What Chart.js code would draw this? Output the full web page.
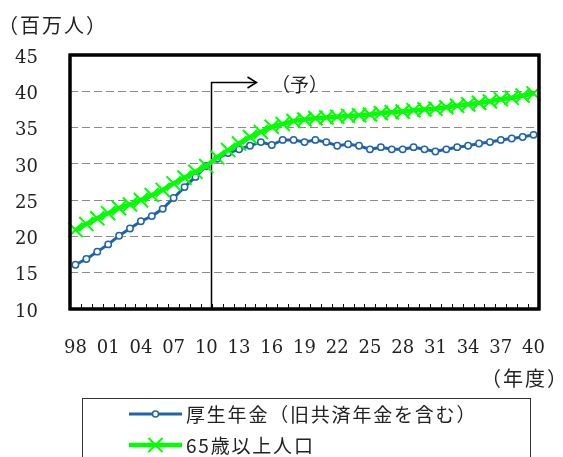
<!DOCTYPE html>
<html><head><meta charset="utf-8">
<script src="https://cdn.jsdelivr.net/npm/chart.js@4.4.1/dist/chart.umd.min.js"></script>
<style>html,body{margin:0;padding:0;background:#fff;}#wrap{width:563px;height:457px;position:relative;}</style>
</head><body><div id="wrap"><canvas id="c" width="563" height="457"></canvas></div>
<script>
// Fiscal years 1998..2040
const years = ["98","99","00","01","02","03","04","05","06","07","08","09","10","11","12","13","14","15","16","17","18","19","20","21","22","23","24","25","26","27","28","29","30","31","32","33","34","35","36","37","38","39","40"];
// 厚生年金（旧共済年金を含む） (million persons)
const pension = [16.1,16.9,17.9,18.9,20.1,21.1,22.1,22.8,23.8,25.3,
                 26.8,28.2,29.7,30.7,31.5,32.0,32.5,33.0,32.6,33.3,
                 33.3,33.0,33.3,33.0,32.5,32.7,32.5,32.0,32.3,32.0,
                 32.0,32.3,32.0,31.7,32.0,32.3,32.5,32.8,33.0,33.3,
                 33.5,33.7,34.0];
// 65歳以上人口 (million persons)
const elderly = [20.9,21.7,22.5,23.2,23.9,24.4,25.0,25.7,26.4,27.3,
                 28.1,28.9,29.7,30.9,31.9,32.8,33.7,34.4,35.1,35.5,
                 35.9,36.1,36.3,36.4,36.5,36.6,36.7,36.8,37.0,37.1,
                 37.2,37.4,37.5,37.6,37.8,38.0,38.2,38.4,38.6,38.9,
                 39.1,39.4,39.7];
const yMin = 10, yMax = 45, yStep = 5;
const tickEvery = 3;
const seriesNames = ["厚生年金（旧共済年金を含む）", "65歳以上人口"];
const yUnit = "（百万人）";
const xUnit = "（年度）";
const forecastLabel = "（予）";
const forecastStartIndex = 12; // 2010; forecast begins after it

const BLUE = "#1E64AA", GREEN = "#00FF00";
const JP = "'Noto Sans CJK JP', sans-serif";

function drawFrame(chart) {
  const ctx = chart.ctx, xs = chart.scales.x, ys = chart.scales.y;
  const L = xs.left, R = xs.right, T = ys.top, B = ys.bottom;
  ctx.save();
  ctx.setLineDash([]);
  ctx.globalAlpha = 1;
  ctx.strokeStyle = '#000';
  ctx.lineWidth = 1;
  const n = years.length;
  for (let i = 1; i < n; i++) {
    const px = Math.round((xs.getPixelForValue(i - 1) + xs.getPixelForValue(i)) / 2) + 0.5;
    ctx.beginPath(); ctx.moveTo(px, B); ctx.lineTo(px, B - 5); ctx.stroke();
  }
  ctx.lineWidth = 3;
  ctx.beginPath();
  ctx.rect(L, T, R - L, B - T);
  ctx.stroke();
  ctx.restore();
}

function spacedText(ctx, text, x, y, spacing) {
  ctx.letterSpacing = spacing + 'px';
  ctx.fillText(text, x, y);
  ctx.letterSpacing = '0px';
}

const deco = {
  id: 'deco',
  beforeDatasetsDraw(chart) {
    const ctx = chart.ctx, a = chart.chartArea, x = chart.scales.x, y = chart.scales.y;
    ctx.save();
    ctx.setLineDash([]);
    const xv = Math.round((x.getPixelForValue(forecastStartIndex) + x.getPixelForValue(forecastStartIndex + 1)) / 2) - 0.5;
    const yt = Math.round(y.getPixelForValue(41.3)) + 0.5;
    const xe = x.getPixelForValue(16.6);
    ctx.strokeStyle = '#000'; ctx.lineWidth = 1.5;
    ctx.beginPath();
    ctx.moveTo(xv, a.bottom); ctx.lineTo(xv, yt); ctx.lineTo(xe, yt);
    ctx.stroke();
    ctx.beginPath();
    ctx.moveTo(xe - 9, yt - 5.5); ctx.lineTo(xe, yt); ctx.lineTo(xe - 9, yt + 5.5);
    ctx.stroke();
    ctx.fillStyle = '#222';
    ctx.font = "19px " + JP;
    ctx.textBaseline = 'middle'; ctx.textAlign = 'left';
    ctx.fillText(forecastLabel, 271, yt + 2);
    ctx.restore();
  },
  afterDatasetsDraw(chart) {
    drawFrame(chart);
  },
  afterDraw(chart) {
    const ctx = chart.ctx;
    drawFrame(chart);
    ctx.save();
    ctx.setLineDash([]);
    // legend box
    ctx.lineWidth = 1; ctx.strokeStyle = '#333';
    ctx.strokeRect(82.5, 398.5, 448, 80);
    const r1 = 414, r2 = 445;
    ctx.strokeStyle = BLUE; ctx.lineWidth = 3;
    ctx.beginPath(); ctx.moveTo(129, r1); ctx.lineTo(182, r1); ctx.stroke();
    ctx.fillStyle = '#fff'; ctx.lineWidth = 1.5;
    ctx.beginPath(); ctx.arc(155.5, r1, 3, 0, Math.PI * 2); ctx.fill(); ctx.stroke();
    ctx.strokeStyle = GREEN; ctx.lineWidth = 4.5;
    ctx.beginPath(); ctx.moveTo(129, r2); ctx.lineTo(182, r2); ctx.stroke();
    ctx.lineWidth = 2;
    const d = 7;
    ctx.beginPath();
    ctx.moveTo(155.5 - d, r2 - d); ctx.lineTo(155.5 + d, r2 + d);
    ctx.moveTo(155.5 - d, r2 + d); ctx.lineTo(155.5 + d, r2 - d);
    ctx.stroke();
    // texts
    ctx.fillStyle = '#222';
    ctx.textBaseline = 'middle'; ctx.textAlign = 'left';
    ctx.font = "20px " + JP;
    spacedText(ctx, yUnit, -2, 25, 2);
    spacedText(ctx, xUnit, 481, 378, 2);
    ctx.font = "19px " + JP;
    spacedText(ctx, seriesNames[0], 186, r1 + 1, 1.8);
    spacedText(ctx, seriesNames[1], 186, r2 + 1, 1.8);
    ctx.restore();
  }
};

Chart.defaults.font.family = "'DejaVu Serif', serif";
Chart.defaults.color = '#222';

new Chart(document.getElementById('c'), {
  type: 'line',
  data: {
    labels: years,
    datasets: [
      { label: seriesNames[0], data: pension, borderColor: BLUE, borderWidth: 3,
        pointRadius: 3.2, pointBorderWidth: 1.5, pointBackgroundColor: '#fff', pointBorderColor: BLUE,
        tension: 0, order: 1 },
      { label: seriesNames[1], data: elderly, borderColor: GREEN, borderWidth: 4.5,
        pointStyle: 'crossRot', pointRadius: 10, pointBorderWidth: 2, pointBorderColor: GREEN,
        pointBackgroundColor: GREEN, tension: 0, order: 0 }
    ]
  },
  options: {
    responsive: false, animation: false,
    layout: { padding: { top: 55, right: 24, left: 0, bottom: 0 } },
    plugins: { legend: { display: false }, tooltip: { enabled: false } },
    scales: {
      x: {
        offset: true,
        grid: { display: false, drawTicks: true, tickLength: 29 },
        border: { display: false },
        ticks: { autoSkip: false, maxRotation: 0, minRotation: 0, padding: 0,
          font: { size: 18 }, color: '#222',
          callback: (v, i) => (i % tickEvery === 0 ? years[i] : '') },
        afterFit: s => { s.height = 148; }
      },
      y: {
        min: yMin, max: yMax,
        grid: { color: '#8a8a8a', lineWidth: 1, drawTicks: false },
        border: { display: false, dash: [8, 4] },
        ticks: { stepSize: yStep, padding: 32, labelOffset: 3, font: { size: 18 }, color: '#222' },
        afterFit: s => { s.width = 70; }
      }
    }
  },
  plugins: [deco]
});
</script>
</body></html>
